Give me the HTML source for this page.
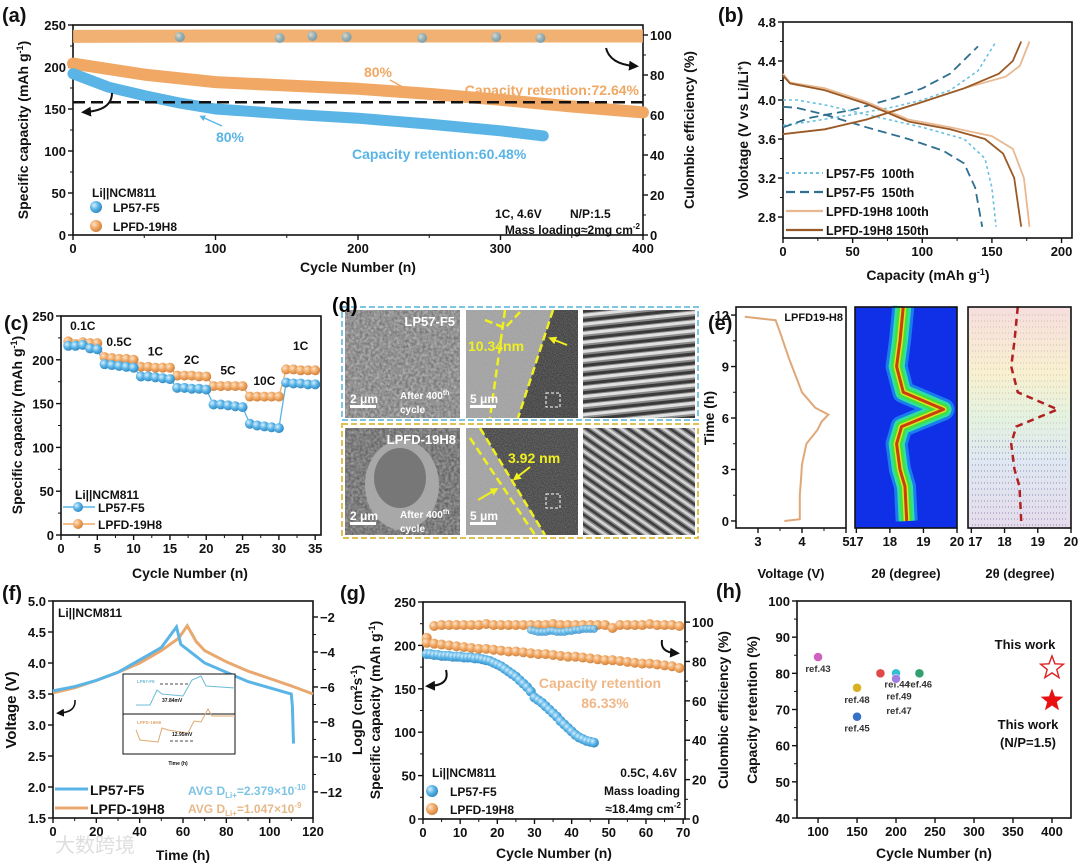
<!DOCTYPE html>
<html><head><meta charset="utf-8">
<style>
html,body{margin:0;padding:0;background:#fff;}
svg{display:block;font-family:"Liberation Sans","Noto Sans CJK SC",sans-serif;font-weight:bold;}
</style></head>
<body>
<svg id="fig" xmlns="http://www.w3.org/2000/svg" width="1080" height="864" viewBox="0 0 1080 864">
<defs>
  <radialGradient id="gBlue" cx="0.35" cy="0.35" r="0.7"><stop offset="0" stop-color="#d8f0ff"/><stop offset="0.5" stop-color="#5ab4e6"/><stop offset="1" stop-color="#2f86c0"/></radialGradient>
  <radialGradient id="gOrange" cx="0.35" cy="0.35" r="0.7"><stop offset="0" stop-color="#fde3c8"/><stop offset="0.5" stop-color="#f0a864"/><stop offset="1" stop-color="#d0803c"/></radialGradient>
  <marker id="arr" viewBox="0 0 10 10" refX="5" refY="5" markerWidth="5" markerHeight="5" orient="auto"><path d="M0,0 L10,5 L0,10 z" fill="#111"/></marker>
  <marker id="arrB" viewBox="0 0 10 10" refX="5" refY="5" markerWidth="4" markerHeight="4" orient="auto"><path d="M0,0 L10,5 L0,10 z" fill="#5ab4e6"/></marker>
  <marker id="arrO" viewBox="0 0 10 10" refX="5" refY="5" markerWidth="4" markerHeight="4" orient="auto"><path d="M0,0 L10,5 L0,10 z" fill="#f0a864"/></marker>
  <marker id="arrY" viewBox="0 0 10 10" refX="5" refY="5" markerWidth="4" markerHeight="4" orient="auto"><path d="M0,0 L10,5 L0,10 z" fill="#f0f020"/></marker>
  <filter id="sem" x="0" y="0" width="1" height="1"><feTurbulence type="fractalNoise" baseFrequency="0.35" numOctaves="3" seed="3"/><feColorMatrix type="matrix" values="0 0 0 0 0.5  0 0 0 0 0.5  0 0 0 0 0.5  1.2 0 0 0 -0.1"/></filter>
  <filter id="tem" x="0" y="0" width="1" height="1"><feTurbulence type="fractalNoise" baseFrequency="0.9" numOctaves="2" seed="7"/><feColorMatrix type="matrix" values="0 0 0 0 0.6  0 0 0 0 0.6  0 0 0 0 0.6  0.8 0 0 0 0"/></filter>
  <pattern id="fringe1" width="24" height="9" patternUnits="userSpaceOnUse" patternTransform="rotate(-6)"><rect width="24" height="9" fill="#8a8a8a"/><rect y="0" width="24" height="3" fill="#3a3a3a"/><rect y="4" width="24" height="3" fill="#e0e0e0"/></pattern>
  <pattern id="fringe2" width="8" height="8" patternUnits="userSpaceOnUse" patternTransform="rotate(-55)"><rect width="8" height="8" fill="#8a8a8a"/><rect width="2.5" height="8" fill="#3e3e3e"/><rect x="4" width="2.5" height="8" fill="#d4d4d4"/></pattern>
  <linearGradient id="waterfall" x1="0" y1="0" x2="0" y2="1"><stop offset="0" stop-color="#f6dede"/><stop offset="0.3" stop-color="#f8f0d0"/><stop offset="0.5" stop-color="#e4f2e0"/><stop offset="0.7" stop-color="#dfe8f2"/><stop offset="1" stop-color="#e6dcec"/></linearGradient>
</defs>

<!-- Panel (d) static images -->
<g>
  <rect x="342" y="307" width="356" height="113" fill="none" stroke="#7cc6e4" stroke-width="2" stroke-dasharray="6,3"/>
  <rect x="342" y="424" width="356" height="114" fill="none" stroke="#e0c050" stroke-width="2" stroke-dasharray="6,3"/>
  <rect x="345" y="310" width="115" height="108" fill="#6a6a6a"/>
  <rect x="345" y="310" width="115" height="108" filter="url(#sem)"/>
  <text x="455" y="326" font-size="13" fill="#fff" text-anchor="end">LP57-F5</text>
  <rect x="350" y="405" width="26" height="3" fill="#fff"/>
  <text x="350" y="403" font-size="12" fill="#fff">2 μm</text>
  <text x="400" y="399" font-size="10" fill="#fff">After 400<tspan font-size="7" dy="-4">th</tspan></text>
  <text x="400" y="413" font-size="10" fill="#fff">cycle</text>

  <rect x="466" y="310" width="112" height="108" fill="#9a9a9a"/>
  <polygon points="553,310 578,310 578,418 518,418" fill="#2a2a2a"/>
  <rect x="466" y="310" width="112" height="108" filter="url(#tem)" opacity="0.6"/>
  <path d="M505,310 L490,418 M553,310 L518,418 M485,320 L505,328 L520,312" stroke="#f0f020" stroke-width="2.5" stroke-dasharray="8,4" fill="none"/>
  <line x1="567" y1="345" x2="552" y2="339" stroke="#f0f020" stroke-width="2" marker-end="url(#arrY)"/>
  <text x="468" y="351" font-size="14" fill="#f0f020">10.34nm</text>
  <rect x="546" y="393" width="14" height="14" fill="none" stroke="#fff" stroke-dasharray="3,2"/>
  <rect x="470" y="405" width="26" height="3" fill="#fff"/>
  <text x="470" y="403" font-size="12" fill="#fff">5 μm</text>
  <rect x="583" y="310" width="112" height="108" fill="url(#fringe1)"/>

  <rect x="345" y="428" width="115" height="107" fill="#555"/>
  <rect x="345" y="428" width="115" height="107" filter="url(#sem)" opacity="0.8"/>
  <ellipse cx="402" cy="485" rx="37" ry="45" fill="#a8a8a8"/>
  <ellipse cx="400" cy="478" rx="26" ry="30" fill="#777"/>
  <text x="456" y="444" font-size="13" fill="#fff" text-anchor="end">LPFD-19H8</text>
  <rect x="350" y="522" width="26" height="3" fill="#fff"/>
  <text x="350" y="520" font-size="12" fill="#fff">2 μm</text>
  <text x="400" y="518" font-size="10" fill="#fff">After 400<tspan font-size="7" dy="-4">th</tspan></text>
  <text x="400" y="532" font-size="10" fill="#fff">cycle</text>

  <rect x="466" y="428" width="112" height="107" fill="#9a9a9a"/>
  <polygon points="480,428 578,428 578,535 545,535" fill="#303030"/>
  <rect x="466" y="428" width="112" height="107" filter="url(#tem)" opacity="0.6"/>
  <path d="M470,438 L535,535 M480,428 L545,535" stroke="#f0f020" stroke-width="2.5" stroke-dasharray="8,4" fill="none"/>
  <text x="508" y="463" font-size="14" fill="#f0f020">3.92 nm</text>
  <line x1="530" y1="467" x2="516" y2="478" stroke="#f0f020" stroke-width="2" marker-end="url(#arrY)"/>
  <line x1="478" y1="500" x2="495" y2="490" stroke="#f0f020" stroke-width="2" marker-end="url(#arrY)"/>
  <rect x="546" y="494" width="14" height="14" fill="none" stroke="#fff" stroke-dasharray="3,2"/>
  <rect x="470" y="522" width="26" height="3" fill="#fff"/>
  <text x="470" y="520" font-size="12" fill="#fff">5 μm</text>
  <rect x="583" y="428" width="112" height="107" fill="url(#fringe2)"/>
  <text x="332" y="312" font-size="20">(d)</text>
</g>

<text x="55" y="852" font-size="20" fill="#dedede" font-weight="normal">大数跨境</text>

<script>
// ---------- DATA ----------
// (a) long cycling 1C
const aCycLP57 = [0, 25, 50, 75, 100, 150, 200, 250, 300, 330];
const aCapLP57 = [192, 176, 166, 157, 150, 144, 139, 132, 124, 118];
const aCycLPFD = [0, 50, 100, 150, 200, 250, 300, 350, 400];
const aCapLPFD = [204, 191, 182, 178, 174, 168, 161, 153, 146];
const aCeCyc = [0, 100, 200, 300, 400];
const aCeLPFD = [99.3, 99.5, 99.5, 99.5, 99.5];
const aCeMarkCyc = [75, 145, 168, 192, 245, 297, 328];
const aCeMarkLP57 = [99, 98.5, 99.5, 99, 98.5, 99, 98.5];
const aXTicks = [0, 100, 200, 300, 400];
const aYTicks = [0, 50, 100, 150, 200, 250];
const aY2Ticks = [0, 20, 40, 60, 80, 100];
// (b) voltage profiles
const bCapLP57_100c = [0, 20, 50, 80, 100, 120, 140, 153];
const bVLP57_100c = [3.74, 3.78, 3.85, 3.93, 4.0, 4.1, 4.3, 4.6];
const bCapLP57_100d = [0, 10, 30, 60, 100, 130, 145, 150, 153];
const bVLP57_100d = [4.0, 4.0, 3.95, 3.85, 3.72, 3.6, 3.4, 3.1, 2.7];
const bCapLP57_150c = [0, 20, 50, 80, 100, 120, 140];
const bVLP57_150c = [3.72, 3.82, 3.9, 4.02, 4.12, 4.27, 4.55];
const bCapLP57_150d = [0, 10, 30, 60, 90, 115, 130, 138, 143];
const bVLP57_150d = [3.93, 3.92, 3.85, 3.72, 3.6, 3.48, 3.35, 3.1, 2.7];
const bCapLPFD_100c = [0, 30, 60, 100, 130, 160, 170, 177];
const bVLPFD_100c = [3.65, 3.7, 3.8, 3.98, 4.12, 4.24, 4.35, 4.6];
const bCapLPFD_100d = [0, 5, 30, 60, 90, 120, 150, 165, 173, 177];
const bVLPFD_100d = [4.27, 4.18, 4.12, 3.98, 3.8, 3.72, 3.63, 3.5, 3.2, 2.7];
const bCapLPFD_150c = [0, 30, 60, 100, 130, 155, 165, 171];
const bVLPFD_150c = [3.65, 3.7, 3.8, 3.98, 4.12, 4.27, 4.4, 4.6];
const bCapLPFD_150d = [0, 5, 30, 60, 90, 120, 145, 158, 166, 171];
const bVLPFD_150d = [4.25, 4.17, 4.1, 3.96, 3.78, 3.7, 3.6, 3.45, 3.2, 2.7];
const bXTicks = [0, 50, 100, 150, 200];
const bYTicks = [2.8, 3.2, 3.6, 4.0, 4.4, 4.8];
// (c) rate capability
const cCycles = [1,2,3,4,5,6,7,8,9,10,11,12,13,14,15,16,17,18,19,20,21,22,23,24,25,26,27,28,29,30,31,32,33,34,35];
const cLP57 = [216,216,217,213,212,195,194,193,192,191,181,181,180,179,178,168,168,167,167,166,149,149,148,147,146,127,125,124,123,122,174,173,173,172,172];
const cLPFD = [221,218,220,219,219,203,202,201,201,200,192,192,191,191,191,182,182,182,181,181,170,170,170,170,170,158,158,158,158,158,189,189,188,188,188];
const cRates = ["0.1C","0.5C","1C","2C","5C","10C","1C"];
const cXTicks = [0,5,10,15,20,25,30,35];
const cYTicks = [0,50,100,150,200,250];
// (e) in-situ
const eTime = [0, 0.1, 1.5, 2.5, 3.3, 4.5, 5.3, 5.8, 6.2, 6.6, 7.5, 9.5, 11, 11.7, 11.9];
const eVolt = [3.6, 3.95, 3.95, 3.98, 4.0, 4.1, 4.35, 4.45, 4.6, 4.3, 4.0, 3.7, 3.5, 3.4, 2.7];
const ePeakT = [0, 2, 3, 4.5, 5.5, 6.5, 7.5, 9, 10.5, 12.5];
const ePeak2T = [18.5, 18.45, 18.3, 18.2, 18.35, 19.6, 18.4, 18.2, 18.3, 18.4];
const eYTicks = [0,3,6,9,12];
const eVTicks = [3,4,5];
const eThTicks = [17,18,19,20];
// (f) GITT
const fTimeLP57 = [0, 10, 20, 30, 40, 50, 57, 59, 62, 70, 80, 90, 100, 110, 110.5, 111];
const fVLP57 = [3.55, 3.62, 3.72, 3.85, 4.05, 4.25, 4.58, 4.3, 4.22, 4.0, 3.85, 3.7, 3.6, 3.5, 3.3, 2.7];
const fTimeLPFD = [0, 10, 20, 30, 40, 50, 58, 62, 66, 70, 80, 90, 100, 110, 120];
const fVLPFD = [3.52, 3.6, 3.72, 3.85, 4.0, 4.2, 4.4, 4.6, 4.35, 4.2, 4.02, 3.87, 3.75, 3.63, 3.5];
const fXTicks = [0,20,40,60,80,100,120];
const fYTicks = [1.5,2.0,2.5,3.0,3.5,4.0,4.5,5.0];
const fY2Ticks = [-2,-4,-6,-8,-10,-12];
// (g) high loading
const gCycLP57 = [1,2,3,4,5,6,7,8,9,10,11,12,13,14,15,16,17,18,19,20,21,22,23,24,25,26,27,28,29,30,31,32,33,34,35,36,37,38,39,40,41,42,43,44,45,46];
const gCapLP57 = [190,190,189,189,188,188,188,187,187,187,186,186,186,185,185,184,183,182,180,178,176,173,170,167,164,160,156,152,147,140,137,134,130,126,122,118,113,109,105,101,97,94,92,90,89,88];
const gCycLPFD = [1,3,5,7,9,11,13,15,17,19,21,23,25,27,29,31,33,35,37,39,41,43,45,47,49,51,53,55,57,59,61,63,65,67,69];
const gCapLPFD = [203,202,201,200,199,198,197,196,196,195,194,193,193,192,191,190,190,189,188,187,187,186,185,184,183,183,182,181,180,179,179,178,177,176,174];
const gCeLP57 = [98,98.5,98.5,98.5,98.5,98.5,98.5,98.5,98.5,98.5,98.5,98.5,98.5,98.5,98.5,98.5,98.5,98.5,98.5,98.5,98.5,98,98,98,98,97.5,97,96.5,96,95.5,95,95,95,95.5,95.5,95,95,95,95.5,95.5,96,96,96.5,96.5,96.5,96.5];
const gCeLPFD = [92,98,98.5,98.5,98.5,98.5,98.5,98.5,99,98.5,98.5,98.5,98.5,98.5,98.5,98.5,98.5,99,98.5,98.5,98.5,98.5,98.5,98.5,98.5,97,98.5,98.5,98.5,98.5,99,98.5,98.5,98.5,98];
const gXTicks = [0,10,20,30,40,50,60,70];
const gYTicks = [0,50,100,150,200,250];
const gY2Ticks = [0,20,40,60,80,100];
// (h) comparison
const hRefs = ["ref.43","ref.44","ref.46","ref.49","ref.47","ref.48","ref.45"];
const hCycles = [100,180,230,200,200,150,150];
const hRetention = [84.5,80,80,80,78.5,76,68];
const hColors = ["#d060c0","#e04848","#30a070","#30c0d0","#a080e0","#d8b020","#3870c8"];
const hWorkCycles = [400,400];
const hWorkRetention = [81.5,72.5];
const hXTicks = [100,150,200,250,300,350,400];
const hYTicks = [40,50,60,70,80,90,100];

// ---------- HELPERS ----------
const NS = 'http://www.w3.org/2000/svg';
const svg = document.getElementById('fig');
function mk(tag, attrs, name, parent) {
  const e = document.createElementNS(NS, tag);
  for (const k in attrs) e.setAttribute(k, attrs[k]);
  
  
  (parent || svg).appendChild(e);
  return e;
}
// segs: plain string, or array of [text, fontSize|null, dy]
function txt(x, y, s, opts, name, parent) {
  const t = mk('text', Object.assign({x: x, y: y, 'font-size': 13, fill: '#111'}, opts || {}), name, parent);
  if (typeof s === 'string') {
    t.textContent = s;
  } else {
    s.forEach(seg => {
      const sp = document.createElementNS(NS, 'tspan');
      if (seg[1]) sp.setAttribute('font-size', seg[1]);
      if (seg[2]) sp.setAttribute('dy', seg[2]);
      sp.textContent = seg[0];
      t.appendChild(sp);
    });
  }
  return t;
}
function lin(d0, d1, r0, r1) { return v => r0 + (v - d0) * (r1 - r0) / (d1 - d0); }
function fmt(v) { return String(v); }
function axes(o) {
  const g = mk('g', {}, o.name + '-axes');
  const sx = lin(o.x[0], o.x[1], o.L, o.R);
  const sy = lin(o.y[0], o.y[1], o.B, o.T);
  mk('rect', {x: o.L, y: o.T, width: o.R - o.L, height: o.B - o.T, fill: 'none', stroke: '#111', 'stroke-width': 1.6}, o.name + '-frame', g);
  const fs = o.fs || 13;
  if (o.xt) {
    o.xt.forEach((v, i) => {
      const x = sx(v);
      mk('line', {x1: x, x2: x, y1: o.B, y2: o.B + 5, stroke: '#111', 'stroke-width': 1.4}, o.name + '-x-tick', g);
      const lab = o.xl ? o.xl[i] : fmt(v);
      txt(x, o.B + 18, lab, {'text-anchor': 'middle', 'font-size': fs}, o.name + '-x-tick-label', g);
      if (o.xminor && i < o.xt.length - 1) {
        const xm = sx((v + o.xt[i + 1]) / 2);
        mk('line', {x1: xm, x2: xm, y1: o.B, y2: o.B + 3, stroke: '#111', 'stroke-width': 1}, o.name + '-x-minor-tick', g);
      }
    });
  }
  if (o.yt) {
    o.yt.forEach((v, i) => {
      const y = sy(v);
      mk('line', {x1: o.L - 5, x2: o.L, y1: y, y2: y, stroke: '#111', 'stroke-width': 1.4}, o.name + '-y-tick', g);
      const lab = o.yl ? o.yl[i] : fmt(v);
      txt(o.L - 7, y + 5, lab, {'text-anchor': 'end', 'font-size': fs}, o.name + '-y-tick-label', g);
      if (o.yminor && i < o.yt.length - 1) {
        const ym = sy((v + o.yt[i + 1]) / 2);
        mk('line', {x1: o.L - 3, x2: o.L, y1: ym, y2: ym, stroke: '#111', 'stroke-width': 1}, o.name + '-y-minor-tick', g);
      }
    });
  }
  let sy2 = null;
  if (o.y2) {
    sy2 = lin(o.y2[0], o.y2[1], o.B, o.T);
    o.y2t.forEach((v, i) => {
      const y = sy2(v);
      mk('line', {x1: o.R, x2: o.R + 5, y1: y, y2: y, stroke: '#111', 'stroke-width': 1.4}, o.name + '-y2-tick', g);
      txt(o.R + 7, y + 5, o.y2l ? o.y2l[i] : fmt(v), {'text-anchor': 'start', 'font-size': fs}, o.name + '-y2-tick-label', g);
      if (i < o.y2t.length - 1) {
        const ym = sy2((v + o.y2t[i + 1]) / 2);
        mk('line', {x1: o.R, x2: o.R + 3, y1: ym, y2: ym, stroke: '#111', 'stroke-width': 1}, o.name + '-y2-minor-tick', g);
      }
    });
  }
  return {sx: sx, sy: sy, sy2: sy2, g: g};
}
function pathD(xs, ys, sx, sy) {
  return xs.map((x, i) => (i ? 'L' : 'M') + sx(x).toFixed(1) + ',' + sy(ys[i]).toFixed(1)).join(' ');
}
function vtitle(x, y, s, name, fs) {
  return txt(x, y, s, {'text-anchor': 'middle', 'font-size': fs || 14, transform: 'rotate(-90 ' + x + ' ' + y + ')'}, name);
}
function star(cx, cy, r) {
  const pts = [];
  for (let i = 0; i < 10; i++) {
    const a = -Math.PI / 2 + i * Math.PI / 5;
    const rr = i % 2 ? r * 0.42 : r;
    pts.push((cx + rr * Math.cos(a)).toFixed(1) + ',' + (cy + rr * Math.sin(a)).toFixed(1));
  }
  return pts.join(' ');
}
const BLUE = '#5ab4e6', ORANGE = '#f0a864';
function capTitle() { return [['Specific capacity (mAh g'], ['-1', 9, -5], [')', null, 5]]; }

// ---------- PANEL A ----------
(function () {
  const A = axes({name: 'panel-a', L: 73, R: 643, T: 25, B: 235, x: [0, 400], y: [0, 250], xt: aXTicks, yt: aYTicks, xminor: true, yminor: true, y2: [0, 105], y2t: aY2Ticks});
  txt(2, 22, '(a)', {'font-size': 20}, 'panel-a-label');
  mk('path', {d: pathD(aCeCyc, aCeLPFD, A.sx, A.sy2), stroke: ORANGE, 'stroke-width': 13, fill: 'none', 'stroke-linejoin': 'round', opacity: 0.9}, 'ce-lpfd-series');
  aCeMarkCyc.forEach((c, i) => {
    mk('circle', {cx: A.sx(c), cy: A.sy2(aCeMarkLP57[i]), r: 5, fill: 'url(#gBlue)', opacity: 0.6}, 'ce-lp57-marker');
  });
  mk('path', {d: pathD(aCycLPFD, aCapLPFD, A.sx, A.sy), stroke: ORANGE, 'stroke-width': 12, fill: 'none', 'stroke-linecap': 'round', 'stroke-linejoin': 'round'}, 'capacity-lpfd-series');
  mk('path', {d: pathD(aCycLP57, aCapLP57, A.sx, A.sy), stroke: BLUE, 'stroke-width': 11, fill: 'none', 'stroke-linecap': 'round', 'stroke-linejoin': 'round'}, 'capacity-lp57-series');
  mk('line', {x1: 73, x2: 643, y1: A.sy(158), y2: A.sy(158), stroke: '#111', 'stroke-width': 2.5, 'stroke-dasharray': '12,6'}, 'eighty-percent-line');
  vtitle(28, 130, capTitle(), 'panel-a-y-title');
  vtitle(694, 130, 'Culombic efficiency (%)', 'panel-a-y2-title');
  txt(358, 272, 'Cycle Number (n)', {'text-anchor': 'middle', 'font-size': 14}, 'panel-a-x-title');
  txt(378, 77, '80%', {'text-anchor': 'middle', fill: ORANGE, 'font-size': 14}, 'annot-lpfd-80');
  mk('line', {x1: 390, y1: 80, x2: 410, y2: 91, stroke: ORANGE, 'stroke-width': 1.5, 'marker-end': 'url(#arrO)'}, 'annot-lpfd-arrow');
  txt(639, 95, 'Capacity retention:72.64%', {'text-anchor': 'end', fill: ORANGE, 'font-size': 14}, 'annot-lpfd-retention');
  txt(230, 142, '80%', {'text-anchor': 'middle', fill: BLUE, 'font-size': 14}, 'annot-lp57-80');
  mk('line', {x1: 222, y1: 126, x2: 202, y2: 117, stroke: BLUE, 'stroke-width': 1.5, 'marker-end': 'url(#arrB)'}, 'annot-lp57-arrow');
  txt(352, 159, 'Capacity retention:60.48%', {fill: BLUE, 'font-size': 14}, 'annot-lp57-retention');
  mk('path', {d: 'M112,93 Q112,110 86,112', stroke: '#111', 'stroke-width': 2, fill: 'none', 'marker-end': 'url(#arr)'}, 'arrow-left-axis');
  mk('path', {d: 'M606,48 Q610,64 634,66', stroke: '#111', 'stroke-width': 2, fill: 'none', 'marker-end': 'url(#arr)'}, 'arrow-right-axis');
  txt(92, 197, 'Li||NCM811', {'font-size': 12}, 'panel-a-legend-title');
  mk('circle', {cx: 96, cy: 207, r: 6, fill: 'url(#gBlue)'}, 'legend-lp57-marker');
  txt(113, 212, 'LP57-F5', {'font-size': 12}, 'legend-lp57-label');
  mk('circle', {cx: 96, cy: 226, r: 6, fill: 'url(#gOrange)'}, 'legend-lpfd-marker');
  txt(113, 231, 'LPFD-19H8', {'font-size': 12}, 'legend-lpfd-label');
  txt(495, 218, '1C, 4.6V', {'font-size': 12}, 'panel-a-condition');
  txt(570, 218, 'N/P:1.5', {'font-size': 12}, 'panel-a-np');
  txt(640, 234, [['Mass loading≈2mg cm'], ['-2', 8, -5]], {'font-size': 12, 'text-anchor': 'end'}, 'panel-a-loading');
})();

// ---------- PANEL B ----------
(function () {
  const B = axes({name: 'panel-b', L: 783, R: 1072, T: 22, B: 238, x: [0, 207.5], y: [2.585, 4.8], xt: bXTicks, yt: bYTicks, yl: ['2.8','3.2','3.6','4.0','4.4','4.8'], xminor: true, yminor: true});
  txt(718, 22, '(b)', {'font-size': 20}, 'panel-b-label');
  const styles = [
    ['lp57-100th', '#6cc0e0', '3,3', 1.6, bCapLP57_100c, bVLP57_100c, bCapLP57_100d, bVLP57_100d],
    ['lp57-150th', '#2f6f8f', '9,5', 1.8, bCapLP57_150c, bVLP57_150c, bCapLP57_150d, bVLP57_150d],
    ['lpfd-100th', '#e8b890', 'none', 1.8, bCapLPFD_100c, bVLPFD_100c, bCapLPFD_100d, bVLPFD_100d],
    ['lpfd-150th', '#9a5a28', 'none', 1.8, bCapLPFD_150c, bVLPFD_150c, bCapLPFD_150d, bVLPFD_150d]
  ];
  const labels = ['LP57-F5\u00a0\u00a0100th', 'LP57-F5\u00a0\u00a0150th', 'LPFD-19H8 100th', 'LPFD-19H8 150th'];
  styles.forEach((s, i) => {
    mk('path', {d: pathD(s[4], s[5], B.sx, B.sy), stroke: s[1], 'stroke-width': s[3], 'stroke-dasharray': s[2], fill: 'none'}, 'charge-curve-' + s[0]);
    mk('path', {d: pathD(s[6], s[7], B.sx, B.sy), stroke: s[1], 'stroke-width': s[3], 'stroke-dasharray': s[2], fill: 'none'}, 'discharge-curve-' + s[0]);
    const y = 173 + i * 19;
    mk('line', {x1: 786, x2: 823, y1: y, y2: y, stroke: s[1], 'stroke-width': s[3] + 0.4, 'stroke-dasharray': s[2]}, 'legend-line-' + s[0]);
    txt(826, y + 5, labels[i], {'font-size': 12.5}, 'legend-label-' + s[0]);
  });
  vtitle(748, 130, [['Volotage (V vs Li/Li'], ['+', 9, -5], [')', null, 5]], 'panel-b-y-title');
  txt(928, 280, [['Capacity (mAh g'], ['-1', 9, -5], [')', null, 5]], {'text-anchor': 'middle', 'font-size': 14}, 'panel-b-x-title');
})();

// ---------- PANEL C ----------
(function () {
  const C = axes({name: 'panel-c', L: 61, R: 321, T: 316, B: 535, x: [0, 35.8], y: [0, 250], xt: cXTicks, yt: cYTicks, xminor: true, yminor: true});
  txt(4, 330, '(c)', {'font-size': 20}, 'panel-c-label');
  mk('path', {d: pathD(cCycles, cLPFD, C.sx, C.sy), stroke: ORANGE, 'stroke-width': 1.3, fill: 'none'}, 'rate-lpfd-line');
  mk('path', {d: pathD(cCycles, cLP57, C.sx, C.sy), stroke: BLUE, 'stroke-width': 1.3, fill: 'none'}, 'rate-lp57-line');
  cCycles.forEach((c, i) => {
    mk('circle', {cx: C.sx(c), cy: C.sy(cLPFD[i]), r: 5, fill: 'url(#gOrange)'}, 'rate-lpfd-point');
  });
  cCycles.forEach((c, i) => {
    mk('circle', {cx: C.sx(c), cy: C.sy(cLP57[i]), r: 5, fill: 'url(#gBlue)'}, 'rate-lp57-point');
  });
  cRates.forEach((r, k) => {
    const idx = k * 5;
    const cx = C.sx(cCycles[idx] + 2);
    const yv = k === 6 ? cLPFD[idx] + 22 : cLPFD[idx] + 13;
    txt(cx, C.sy(yv), r, {'text-anchor': 'middle', 'font-size': 12}, 'rate-label');
  });
  vtitle(22, 425, capTitle(), 'panel-c-y-title');
  txt(190, 578, 'Cycle Number (n)', {'text-anchor': 'middle', 'font-size': 14}, 'panel-c-x-title');
  txt(75, 499, 'Li||NCM811', {'font-size': 12}, 'panel-c-legend-title');
  mk('line', {x1: 63, x2: 95, y1: 507, y2: 507, stroke: BLUE, 'stroke-width': 1.5}, 'legend-lp57-line');
  mk('circle', {cx: 78, cy: 507, r: 5, fill: 'url(#gBlue)'}, 'legend-lp57-marker');
  txt(98, 512, 'LP57-F5', {'font-size': 12}, 'legend-lp57-label');
  mk('line', {x1: 63, x2: 95, y1: 524, y2: 524, stroke: ORANGE, 'stroke-width': 1.5}, 'legend-lpfd-line');
  mk('circle', {cx: 78, cy: 524, r: 5, fill: 'url(#gOrange)'}, 'legend-lpfd-marker');
  txt(98, 529, 'LPFD-19H8', {'font-size': 12}, 'legend-lpfd-label');
})();

// ---------- PANEL E ----------
(function () {
  const yr = [-0.41, 12.47];
  const E1 = axes({name: 'panel-e-voltage', L: 736, R: 846, T: 307, B: 528, x: [2.5, 5.0], y: yr, xt: eVTicks, yt: eYTicks, yminor: true, xminor: true});
  mk('path', {d: pathD(eVolt, eTime, E1.sx, E1.sy), stroke: '#e0a878', 'stroke-width': 2, fill: 'none'}, 'e-voltage-curve');
  txt(843, 321, 'LPFD19-H8', {'text-anchor': 'end', 'font-size': 11}, 'e-sample-label');
  vtitle(714, 418, 'Time (h)', 'panel-e-y-title');
  txt(791, 578, 'Voltage (V)', {'text-anchor': 'middle', 'font-size': 13}, 'panel-e-voltage-x-title');
  const sx2 = lin(16.96, 20, 855, 957);
  const sy = lin(yr[0], yr[1], 528, 307);
  mk('rect', {x: 855, y: 307, width: 102, height: 221, fill: '#1030e8'}, 'heatmap-background');
  const d2 = pathD(ePeak2T, ePeakT, sx2, sy);
  [[22, '#20b0f0'], [16, '#30e0a0'], [11, '#40e040'], [6, '#d8e820'], [3, '#c84010']].forEach((w, i) => {
    mk('path', {d: d2, stroke: w[1], 'stroke-width': w[0], fill: 'none', 'stroke-linejoin': 'round', opacity: i === 0 ? 0.6 : 1}, 'heatmap-peak-band');
  });
  mk('rect', {x: 855, y: 307, width: 102, height: 221, fill: 'none', stroke: '#111', 'stroke-width': 1.6}, 'heatmap-frame');
  eThTicks.forEach(v => {
    mk('line', {x1: sx2(v), x2: sx2(v), y1: 528, y2: 533, stroke: '#111', 'stroke-width': 1.4}, 'heatmap-x-tick');
    txt(sx2(v), 546, String(v), {'text-anchor': 'middle'}, 'heatmap-x-tick-label');
  });
  txt(906, 578, '2θ (degree)', {'text-anchor': 'middle'}, 'panel-e-heatmap-x-title');
  const sx3 = lin(16.9, 20, 968, 1071);
  mk('rect', {x: 968, y: 307, width: 103, height: 221, fill: 'url(#waterfall)'}, 'waterfall-background');
  for (let k = 0; k < 36; k++) {
    mk('line', {x1: 972, x2: 1068, y1: 315 + k * 6, y2: 315 + k * 6, stroke: k > 20 ? '#5a5a80' : '#b8a8a0', 'stroke-width': 0.7, 'stroke-dasharray': '1,2', opacity: 0.8}, 'waterfall-trace');
  }
  mk('path', {d: pathD(ePeak2T, ePeakT, sx3, sy), stroke: '#b02020', 'stroke-width': 2.5, 'stroke-dasharray': '7,5', fill: 'none'}, 'waterfall-peak-line');
  mk('rect', {x: 968, y: 307, width: 103, height: 221, fill: 'none', stroke: '#111', 'stroke-width': 1.6}, 'waterfall-frame');
  eThTicks.forEach(v => {
    mk('line', {x1: sx3(v), x2: sx3(v), y1: 528, y2: 533, stroke: '#111', 'stroke-width': 1.4}, 'waterfall-x-tick');
    txt(sx3(v) + (v === 17 ? 4 : 0), 546, String(v), {'text-anchor': 'middle'}, 'waterfall-x-tick-label');
  });
  txt(1020, 578, '2θ (degree)', {'text-anchor': 'middle'}, 'panel-e-waterfall-x-title');
  txt(708, 330, '(e)', {'font-size': 20}, 'panel-e-label');
})();

// ---------- PANEL F ----------
(function () {
  const F = axes({name: 'panel-f', L: 53, R: 313, T: 601, B: 818, x: [0, 120], y: [1.5, 5.0], xt: fXTicks, yt: fYTicks, yl: ['1.5','2.0','2.5','3.0','3.5','4.0','4.5','5.0'], xminor: true, y2: [-13.49, -1.086], y2t: fY2Ticks, y2l: ['−2','−4','−6','−8','−10','−12']});
  txt(2, 600, '(f)', {'font-size': 20}, 'panel-f-label');
  mk('path', {d: pathD(fTimeLPFD, fVLPFD, F.sx, F.sy), stroke: '#e8a870', 'stroke-width': 3, fill: 'none'}, 'gitt-lpfd-curve');
  mk('path', {d: pathD(fTimeLP57, fVLP57, F.sx, F.sy), stroke: BLUE, 'stroke-width': 3, fill: 'none'}, 'gitt-lp57-curve');
  txt(58, 617, 'Li||NCM811', {'font-size': 12}, 'panel-f-legend-title');
  mk('path', {d: 'M75,700 Q76,712 60,713', stroke: '#111', 'stroke-width': 1.6, fill: 'none', 'marker-end': 'url(#arr)'}, 'arrow-left-axis');
  const ins = mk('g', {}, 'gitt-inset');
  mk('rect', {x: 123, y: 674, width: 112, height: 80, fill: '#fff', stroke: '#111', 'stroke-width': 1}, 'inset-frame', ins);
  mk('line', {x1: 123, x2: 235, y1: 714, y2: 714, stroke: '#111', 'stroke-width': 1}, 'inset-divider', ins);
  mk('path', {d: 'M136,705 L150,705 L157,690 L162,694 L183,696 L192,680 L201,676 L206,686 L235,688', stroke: '#6cbcd8', 'stroke-width': 1, fill: 'none'}, 'inset-lp57-curve', ins);
  mk('path', {d: 'M136,730 L140,740 L158,742 L162,728 L168,730 L188,733 L194,721 L201,722 L208,709 L212,716 L235,716', stroke: '#e0a870', 'stroke-width': 1, fill: 'none'}, 'inset-lpfd-curve', ins);
  mk('line', {x1: 160, x2: 190, y1: 684, y2: 684, stroke: '#111', 'stroke-dasharray': '3,2', 'stroke-width': 0.8}, 'inset-ref-line', ins);
  mk('line', {x1: 170, x2: 195, y1: 741, y2: 741, stroke: '#111', 'stroke-dasharray': '3,2', 'stroke-width': 0.8}, 'inset-ref-line', ins);
  txt(137, 683, 'LP57-F5', {'font-size': 4.5, fill: '#6cbcd8'}, 'inset-lp57-label', ins);
  txt(137, 724, 'LPFD-19H8', {'font-size': 4.5, fill: '#e0a870'}, 'inset-lpfd-label', ins);
  txt(162, 702, '37.84mV', {'font-size': 5}, 'inset-lp57-value', ins);
  txt(172, 736, '12.95mV', {'font-size': 5}, 'inset-lpfd-value', ins);
  txt(178, 765, 'Time (h)', {'font-size': 5, 'text-anchor': 'middle'}, 'inset-x-title', ins);
  mk('line', {x1: 55, x2: 88, y1: 789, y2: 789, stroke: BLUE, 'stroke-width': 3}, 'legend-lp57-line');
  txt(90, 795, 'LP57-F5', {'font-size': 14}, 'legend-lp57-label');
  mk('line', {x1: 55, x2: 88, y1: 808, y2: 808, stroke: '#e8a870', 'stroke-width': 3}, 'legend-lpfd-line');
  txt(90, 814, 'LPFD-19H8', {'font-size': 14}, 'legend-lpfd-label');
  txt(188, 795, [['AVG D'], ['Li+', 8, 3], ['=2.379×10', null, -3], ['-10', 8, -5]], {'font-size': 12, fill: '#7cc4e4'}, 'avg-d-lp57');
  txt(188, 813, [['AVG D'], ['Li+', 8, 3], ['=1.047×10', null, -3], ['-9', 8, -5]], {'font-size': 12, fill: '#e8b888'}, 'avg-d-lpfd');
  vtitle(16, 710, 'Voltage (V)', 'panel-f-y-title', 15);
  txt(183, 860, 'Time (h)', {'text-anchor': 'middle', 'font-size': 14}, 'panel-f-x-title');
})();

// ---------- PANEL G ----------
(function () {
  const G = axes({name: 'panel-g', L: 423, R: 685, T: 602, B: 819, x: [0, 70.5], y: [0, 250], xt: gXTicks, yt: gYTicks, xminor: true, yminor: true, y2: [0, 110.2], y2t: gY2Ticks});
  txt(340, 600, '(g)', {'font-size': 20}, 'panel-g-label');
  gCycLPFD.forEach((c, i) => {
    mk('circle', {cx: G.sx(c), cy: G.sy2(gCeLPFD[i]), r: 5, fill: 'url(#gOrange)'}, 'ce-lpfd-point');
  });
  gCycLP57.forEach((c, i) => {
    if (c > 28) mk('circle', {cx: G.sx(c), cy: G.sy2(gCeLP57[i]), r: 4, fill: 'url(#gBlue)', opacity: 0.8}, 'ce-lp57-point');
  });
  gCycLPFD.forEach((c, i) => {
    mk('circle', {cx: G.sx(c), cy: G.sy(gCapLPFD[i]), r: 5, fill: 'url(#gOrange)'}, 'capacity-lpfd-point');
  });
  gCycLP57.forEach((c, i) => {
    mk('circle', {cx: G.sx(c), cy: G.sy(gCapLP57[i]), r: 5, fill: 'url(#gBlue)'}, 'capacity-lp57-point');
  });
  txt(600, 688, 'Capacity retention', {'text-anchor': 'middle', 'font-size': 14, fill: '#f0b888'}, 'annot-retention');
  txt(605, 708, '86.33%', {'text-anchor': 'middle', 'font-size': 14, fill: '#f0b888'}, 'annot-retention-value');
  mk('path', {d: 'M446,670 Q450,685 430,686', stroke: '#111', 'stroke-width': 2, fill: 'none', 'marker-end': 'url(#arr)'}, 'arrow-left-axis');
  mk('path', {d: 'M662,640 Q660,652 675,653', stroke: '#111', 'stroke-width': 2, fill: 'none', 'marker-end': 'url(#arr)'}, 'arrow-right-axis');
  txt(432, 777, 'Li||NCM811', {'font-size': 12}, 'panel-g-legend-title');
  mk('circle', {cx: 432, cy: 791, r: 6, fill: 'url(#gBlue)'}, 'legend-lp57-marker');
  txt(450, 796, 'LP57-F5', {'font-size': 12}, 'legend-lp57-label');
  mk('circle', {cx: 432, cy: 809, r: 6, fill: 'url(#gOrange)'}, 'legend-lpfd-marker');
  txt(450, 814, 'LPFD-19H8', {'font-size': 12}, 'legend-lpfd-label');
  txt(677, 777, '0.5C, 4.6V', {'font-size': 12, 'text-anchor': 'end'}, 'panel-g-condition');
  txt(680, 795, 'Mass loading', {'font-size': 12, 'text-anchor': 'end'}, 'panel-g-loading');
  txt(681, 813, [['≈18.4mg cm'], ['-2', 8, -5]], {'font-size': 12, 'text-anchor': 'end'}, 'panel-g-loading-value');
  vtitle(362, 710, [['LogD (cm'], ['2', 9, -5], ['s', null, 5], ['-1', 9, -5], [')', null, 5]], 'panel-g-logd-title');
  vtitle(380, 710, capTitle(), 'panel-g-y-title');
  vtitle(728, 710, 'Culombic efficiency (%)', 'panel-g-y2-title');
  txt(554, 858, 'Cycle Number (n)', {'text-anchor': 'middle', 'font-size': 14}, 'panel-g-x-title');
})();

// ---------- PANEL H ----------
(function () {
  const H = axes({name: 'panel-h', L: 797, R: 1071, T: 601, B: 818, x: [73, 424.4], y: [40, 100], xt: hXTicks, yt: hYTicks, xminor: false, yminor: true});
  txt(716, 598, '(h)', {'font-size': 20}, 'panel-h-label');
  const offs = [[0, 15, 'middle'], [4, 14, 'start'], [0, 14, 'middle'], [3, 26, 'middle'], [3, 35, 'middle'], [0, 15, 'middle'], [0, 15, 'middle']];
  hRefs.forEach((r, i) => {
    const x = H.sx(hCycles[i]), y = H.sy(hRetention[i]);
    mk('circle', {cx: x, cy: y, r: 4.5, fill: hColors[i], stroke: '#fff', 'stroke-width': 0.5}, 'point-' + r.replace('.', ''));
    txt(x + offs[i][0], y + offs[i][1], r, {'font-size': 9.5, 'text-anchor': offs[i][2], fill: '#333'}, 'label-' + r.replace('.', ''));
  });
  mk('polygon', {points: star(H.sx(hWorkCycles[0]), H.sy(hWorkRetention[0]), 12), fill: 'none', stroke: '#e02020', 'stroke-width': 1.4}, 'this-work-star');
  mk('polygon', {points: star(H.sx(hWorkCycles[1]), H.sy(hWorkRetention[1]), 12), fill: '#e81010'}, 'this-work-np-star');
  txt(1025, 649, 'This work', {'text-anchor': 'middle', 'font-size': 13}, 'this-work-label');
  txt(1028, 729, 'This work', {'text-anchor': 'middle', 'font-size': 13}, 'this-work-np-label');
  txt(1028, 747, '(N/P=1.5)', {'text-anchor': 'middle', 'font-size': 13}, 'this-work-np-sub');
  vtitle(757, 710, 'Capacity retention (%)', 'panel-h-y-title');
  txt(934, 858, 'Cycle Number (n)', {'text-anchor': 'middle', 'font-size': 14}, 'panel-h-x-title');
})();
</script>
</svg>
</body></html>
